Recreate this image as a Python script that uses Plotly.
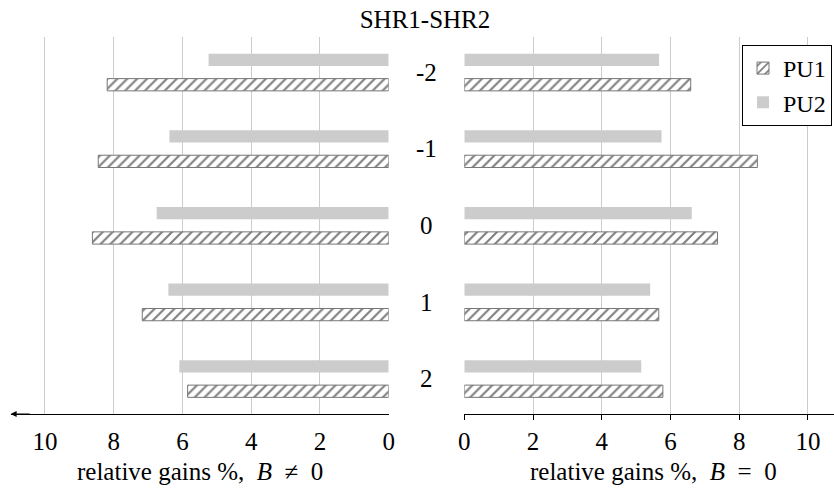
import plotly.graph_objects as go

categories = [-2, -1, 0, 1, 2]
category_labels = ["-2", "-1", "0", "1", "2"]

# Left panel: relative gains %, B != 0
pu1_left = [8.19, 8.45, 8.62, 7.17, 5.85]
pu2_left = [5.24, 6.38, 6.75, 6.41, 6.09]
# Right panel: relative gains %, B = 0
pu1_right = [6.59, 8.53, 7.37, 5.66, 5.78]
pu2_right = [5.67, 5.74, 6.62, 5.41, 5.15]

tick_vals = [0, 2, 4, 6, 8, 10]
tick_text = ["0", "2", "4", "6", "8", "10"]

FONT = "Liberation Serif"
FS = 25
GRAY = "#cccccc"
BW = 0.16

fig = go.Figure()

hatch = dict(shape="/", fgcolor="black", bgcolor="white", size=7, solidity=0.3)

def add_pair(xa, v1, v2, show):
    fig.add_trace(go.Bar(
        x=v1, y=categories, orientation="h", xaxis=xa, yaxis="y",
        width=BW, offset=0.163 - BW / 2, name="PU1", legendgroup="PU1",
        showlegend=show,
        marker=dict(color="white", pattern=hatch, line=dict(color="#777777", width=1)),
    ))
    fig.add_trace(go.Bar(
        x=v2, y=categories, orientation="h", xaxis=xa, yaxis="y",
        width=BW, offset=-0.163 - BW / 2, name="PU2", legendgroup="PU2",
        showlegend=show,
        marker=dict(color=GRAY, line=dict(color=GRAY, width=0)),
    ))

add_pair("x", pu1_left, pu2_left, False)
add_pair("x2", pu1_right, pu2_right, True)

axis_common = dict(
    tickvals=tick_vals, ticktext=tick_text,
    showgrid=True, gridcolor="#cccccc", gridwidth=1,
    zeroline=False, showline=True, linecolor="black", linewidth=1,
    automargin=False,
    tickfont=dict(family=FONT, size=FS, color="black"),
)

fig.update_layout(
    width=834, height=489, autosize=False,
    margin=dict(l=0, r=0, t=37, b=75, autoexpand=False),
    paper_bgcolor="white", plot_bgcolor="white",
    barmode="overlay",
    font=dict(family=FONT, size=FS, color="black"),
    title=dict(text="SHR1-SHR2", x=425 / 834, xanchor="center", xref="paper",
               y=1 - 19 / 489, yanchor="middle", yref="container",
               font=dict(family=FONT, size=FS, color="black")),
    xaxis=dict(domain=[10.6 / 834, 388.7 / 834], range=[11, 0], anchor="y",
               ticks="outside", ticklen=5, tickcolor="rgba(0,0,0,0)", **axis_common),
    xaxis2=dict(domain=[464.3 / 834, 1.0], range=[0, 10.76], anchor="y",
                ticks="outside", ticklen=5, tickcolor="black", **axis_common),
    yaxis=dict(range=[2.46, -2.46], visible=False, showgrid=False, zeroline=False,
               automargin=False),
    legend=dict(x=832 / 834, xanchor="right", y=1 - 8 / 377, yanchor="top",
                bgcolor="white", bordercolor="black", borderwidth=1,
                font=dict(family=FONT, size=24, color="black"),
                traceorder="normal", tracegroupgap=0, itemwidth=30),
    showlegend=True,
)

for c, lab in zip(categories, category_labels):
    fig.add_annotation(x=426 / 834, xref="paper", y=c, yref="y", text=lab,
                       showarrow=False, xanchor="center", yanchor="middle",
                       font=dict(family=FONT, size=FS, color="black"))

fig.add_annotation(x=200 / 834, xref="paper", y=-58 / 377, yref="paper",
                   text="relative gains %,  <i>B</i>  ≠  0", showarrow=False,
                   xanchor="center", yanchor="middle",
                   font=dict(family=FONT, size=FS, color="black"))
fig.add_annotation(x=653 / 834, xref="paper", y=-58 / 377, yref="paper",
                   text="relative gains %,  <i>B</i>  =  0", showarrow=False,
                   xanchor="center", yanchor="middle",
                   font=dict(family=FONT, size=FS, color="black"))

# arrow at the left end of the left axis
fig.add_annotation(x=11.0, xref="x", y=0, yref="paper", ax=10.4, axref="x",
                   ay=0, ayref="pixel", showarrow=True, arrowhead=2,
                   arrowsize=1.2, arrowwidth=1, arrowcolor="black", text="")

fig.write_html("out.html", config={"displayModeBar": False, "responsive": False},
               post_script="document.body.style.margin='0';"
                           "document.body.style.overflow='hidden';"
                           "document.documentElement.style.overflow='hidden';")
